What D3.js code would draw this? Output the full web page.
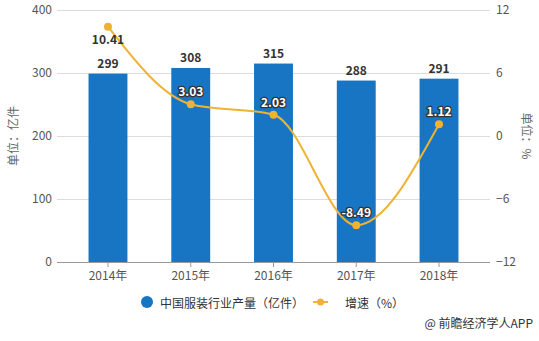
<!DOCTYPE html>
<html><head><meta charset="utf-8">
<script src="https://cdn.jsdelivr.net/npm/d3@7"></script>
<style>body{margin:0;background:#fff}svg{display:block}text{font-family:"Noto Sans CJK SC","Microsoft YaHei",sans-serif}</style>
</head><body><svg id="c" width="539" height="341"></svg>
<script>
const categories = ["2014年","2015年","2016年","2017年","2018年"];
const production = [299,308,315,288,291];
const growth = [10.41,3.03,2.03,-8.49,1.12];
const leftTicks = [0,100,200,300,400];
const rightTicks = [-12,-6,0,6,12];

const svg = d3.select("#c");
const x = d3.scaleBand().domain(categories).range([66.6,480.4]).paddingInner(0.53).paddingOuter(0.265);
const yL = d3.scaleLinear().domain([0,400]).range([262,10]);
const yR = d3.scaleLinear().domain([-12,12]).range([262,10]);
const gx0 = 57, gx1 = 490;

// gridlines
svg.append("g").selectAll("line").data(leftTicks.filter(d=>d>0)).join("line")
  .attr("x1",gx0).attr("x2",gx1).attr("y1",d=>yL(d)).attr("y2",d=>yL(d))
  .attr("stroke","#dcdcdc").attr("stroke-width",1).attr("shape-rendering","crispEdges");

// left axis labels
const lAxis = svg.append("g").attr("transform","translate(52,0)")
  .call(d3.axisLeft(yL).tickValues(leftTicks).tickSize(0).tickPadding(0));
lAxis.select(".domain").remove();
lAxis.selectAll("text").attr("fill","#555").attr("font-size",12);

const rAxis = svg.append("g").attr("transform","translate(496,0)")
  .call(d3.axisRight(yR).tickValues(rightTicks).tickSize(0).tickPadding(0));
rAxis.select(".domain").remove();
rAxis.selectAll("text").attr("fill","#555").attr("font-size",12);

// bars
svg.append("g").selectAll("rect").data(production).join("rect")
  .attr("x",(d,i)=>x(categories[i])).attr("width",x.bandwidth())
  .attr("y",d=>yL(d)).attr("height",d=>yL(0)-yL(d)).attr("fill","#1775c4");

// bottom axis
svg.append("line").attr("x1",gx0).attr("x2",gx1).attr("y1",262.5).attr("y2",262.5).attr("stroke","#999");
const bAxis = svg.append("g").attr("transform","translate(0,262)")
  .call(d3.axisBottom(x).tickSize(5).tickPadding(4));
bAxis.select(".domain").remove();
bAxis.selectAll("line").attr("stroke","#999");
bAxis.selectAll("text").attr("fill","#555").attr("font-size",12);

// bar labels
svg.append("g").selectAll("text").data(production).join("text")
  .attr("x",(d,i)=>x(categories[i])+x.bandwidth()/2).attr("y",d=>yL(d)-6)
  .attr("text-anchor","middle").attr("font-size",12).attr("font-weight","bold").attr("fill","#333")
  .text(d=>d);

// line
const cx = (i)=>x(categories[i])+x.bandwidth()/2;
const line = d3.line().x((d,i)=>cx(i)).y(d=>yR(d)).curve(d3.curveMonotoneX);
svg.append("path").datum(growth).attr("d",line).attr("fill","none").attr("stroke","#f0b232").attr("stroke-width",2);
svg.append("g").selectAll("circle").data(growth).join("circle")
  .attr("cx",(d,i)=>cx(i)).attr("cy",d=>yR(d)).attr("r",4).attr("fill","#f0b232");

// line labels
svg.append("g").selectAll("text").data(growth).join("text")
  .attr("x",(d,i)=>cx(i)).attr("y",(d,i)=>i===0? yR(d)+17 : yR(d)-8)
  .attr("text-anchor","middle").attr("font-size",12).attr("font-weight","bold")
  .attr("fill",(d,i)=>i===0?"#333":"#fff")
  .attr("stroke",(d,i)=>i===0?"none":"#333").attr("stroke-width",2.5).attr("paint-order","stroke")
  .attr("stroke-linejoin","round")
  .text(d=>d.toFixed(2));

// axis titles
svg.append("text").attr("transform","translate(15,136) rotate(-90)").attr("text-anchor","middle")
  .attr("dominant-baseline","middle").attr("font-size",12).attr("fill","#666").text("单位：亿件");
svg.append("text").attr("transform","translate(525,136) rotate(90)").attr("text-anchor","middle")
  .attr("dominant-baseline","middle").attr("font-size",12).attr("fill","#666").text("单位：%");

// legend
svg.append("circle").attr("cx",147).attr("cy",302).attr("r",6).attr("fill","#1775c4");
svg.append("text").attr("x",160).attr("y",302).attr("dominant-baseline","central").attr("font-size",12).attr("fill","#333").text("中国服装行业产量（亿件）");
svg.append("line").attr("x1",313).attr("x2",328).attr("y1",302).attr("y2",302).attr("stroke","#f0b232").attr("stroke-width",2);
svg.append("circle").attr("cx",320.5).attr("cy",302).attr("r",3.5).attr("fill","#f0b232");
svg.append("text").attr("x",345).attr("y",302).attr("dominant-baseline","central").attr("font-size",12).attr("fill","#333").text("增速（%）");

svg.append("text").attr("x",533).attr("y",322).attr("text-anchor","end").attr("dominant-baseline","central").attr("font-size",12).attr("fill","#333").text("@ 前瞻经济学人APP");
</script></body></html>
